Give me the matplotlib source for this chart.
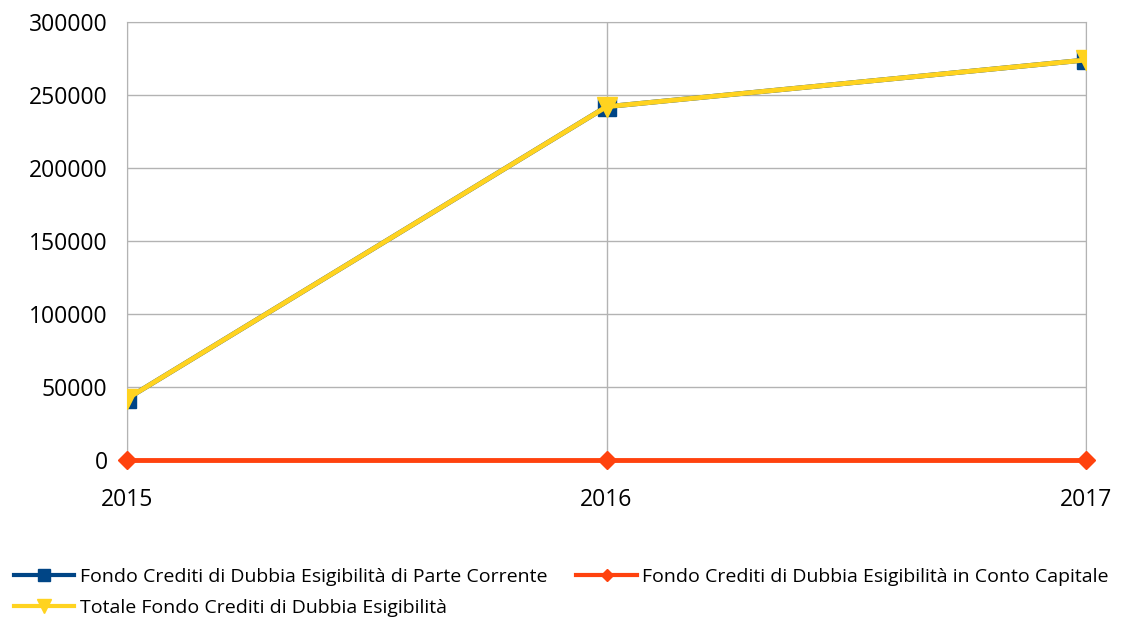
import numpy as np
from matplotlib import pyplot as plt

years = [2015, 2016, 2017]
parte_corrente = [42000, 242000, 274000]
conto_capitale = [0, 0, 0]
totale = [42000, 242000, 274000]

labels = ["Fondo Crediti di Dubbia Esigibilità di Parte Corrente",
          "Fondo Crediti di Dubbia Esigibilità in Conto Capitale",
          "Totale Fondo Crediti di Dubbia Esigibilità"]

plt.rcParams['font.family'] = ['Open Sans', 'DejaVu Sans']

fig = plt.figure(figsize=(11.24, 6.19), dpi=100)
ax = fig.add_axes([127 / 1124, 1 - 460 / 619, (1086 - 127) / 1124, (460 - 22) / 619])

l1, = ax.plot(years, parte_corrente, color='#004586', linewidth=3.5,
              marker='s', markersize=13, zorder=3)
l2, = ax.plot(years, conto_capitale, color='#ff420e', linewidth=3.5,
              marker='D', markersize=9, zorder=3, clip_on=False)
l3, = ax.plot(years, totale, color='#ffd320', linewidth=3.5,
              marker='v', markersize=15, zorder=4)

ax.set_xlim(2015, 2017)
ax.set_ylim(0, 300000)
ax.set_xticks(years)
ax.set_yticks(np.arange(0, 300001, 50000))
ax.grid(True, color='#b3b3b3', linewidth=1)
ax.set_axisbelow(True)
for s in ax.spines.values():
    s.set_color('#b3b3b3')
ax.tick_params(length=0, labelsize=16.5)
ax.tick_params(axis='x', pad=20)
ax.tick_params(axis='y', pad=14)

leg = fig.legend([l1, l3, l2], [labels[0], labels[2], labels[1]],
                 loc='lower left', bbox_to_anchor=(0.0, -0.018), ncol=2,
                 frameon=False, fontsize=14, handlelength=3.1, columnspacing=1.5,
                 labelspacing=0.65, handletextpad=0.3, borderaxespad=0.3,
                 markerscale=0.65)
for h in leg.legend_handles:
    h.set_linewidth(3)

plt.savefig("out.png", dpi=100)
